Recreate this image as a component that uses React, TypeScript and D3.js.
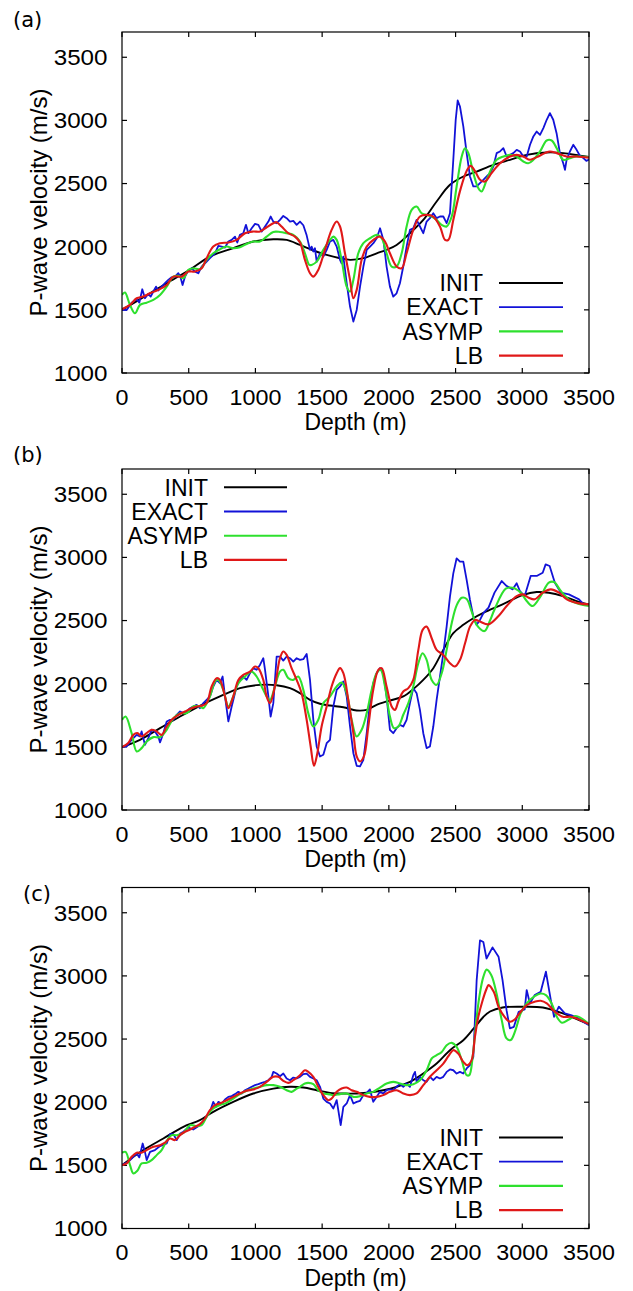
import React from 'react';
import * as d3 from 'd3';

type Pt = [number, number];

const depthTicks = [0, 500, 1000, 1500, 2000, 2500, 3000, 3500];
const velocityTicks = [1000, 1500, 2000, 2500, 3000, 3500];
const seriesNames = ['INIT', 'EXACT', 'ASYMP', 'LB'];
const panelLabels = ['(a)', '(b)', '(c)'];
const xTitle = 'Depth (m)';
const yTitle = 'P-wave velocity (m/s)';

// ---------- panel (a) ----------
const aInit: Pt[] = [[0,1500],[210,1631],[335,1711],[505,1816],[659,1922],[834,1988],[984,2041],[1134,2059],[1234,2054],[1334,2014],[1434,1970],[1534,1935],[1634,1909],[1709,1896],[1809,1909],[1909,1948],[1983,1975],[2058,2014],[2158,2107],[2258,2212],[2358,2358],[2458,2490],[2558,2556],[2658,2595],[2783,2648],[2908,2688],[3033,2727],[3183,2746],[3308,2741],[3432,2720],[3500,2710]];
const aExact: Pt[] = [[0,1500],[35,1499],[72,1557],[110,1584],[130,1557],[152,1663],[172,1592],[197,1626],[215,1605],[235,1645],[255,1684],[272,1653],[297,1684],[322,1711],[347,1737],[372,1758],[397,1763],[422,1790],[438,1760],[454,1697],[472,1763],[497,1811],[522,1829],[547,1803],[572,1790],[597,1843],[622,1869],[659,1909],[697,1948],[722,2006],[747,2001],[772,1993],[797,2041],[822,2054],[847,2080],[864,2033],[884,2094],[909,2107],[929,2173],[947,2107],[972,2146],[997,2181],[1022,2173],[1047,2120],[1072,2160],[1097,2199],[1114,2239],[1134,2199],[1159,2186],[1184,2212],[1209,2244],[1234,2226],[1259,2199],[1284,2204],[1309,2173],[1334,2199],[1359,2170],[1384,2090],[1409,1975],[1421,2001],[1434,1962],[1446,1988],[1459,1882],[1484,1948],[1509,1922],[1534,1975],[1559,2041],[1584,2054],[1609,2001],[1634,1896],[1646,1869],[1659,1922],[1684,1711],[1709,1526],[1734,1407],[1759,1499],[1784,1684],[1809,1843],[1834,1975],[1859,2001],[1884,2028],[1909,2067],[1934,2146],[1959,2054],[1983,1843],[2008,1684],[2033,1605],[2058,1631],[2083,1711],[2108,1843],[2133,2001],[2158,2133],[2183,2146],[2208,2212],[2233,2160],[2258,2107],[2283,2199],[2308,2226],[2333,2265],[2358,2226],[2383,2239],[2408,2239],[2433,2186],[2458,2265],[2483,2688],[2501,3005],[2516,3158],[2533,3110],[2558,2952],[2583,2741],[2608,2556],[2633,2477],[2658,2477],[2683,2503],[2708,2529],[2733,2556],[2758,2582],[2783,2635],[2808,2741],[2833,2754],[2858,2780],[2883,2714],[2908,2727],[2933,2741],[2958,2767],[2983,2754],[3008,2714],[3033,2714],[3058,2807],[3083,2873],[3108,2912],[3133,2886],[3158,2939],[3183,3005],[3207,3058],[3232,3005],[3257,2899],[3282,2741],[3307,2661],[3320,2609],[3332,2688],[3357,2754],[3382,2807],[3407,2767],[3432,2720],[3460,2700],[3480,2680],[3500,2690]];
const aAsymp: Pt[] = [[0,1618],[22,1637],[60,1539],[97,1473],[135,1539],[185,1557],[235,1579],[285,1618],[335,1684],[385,1763],[422,1769],[460,1750],[497,1816],[534,1829],[584,1822],[634,1896],[684,1948],[734,1980],[784,2001],[834,1988],[884,1996],[934,2022],[984,2041],[1034,2041],[1084,2080],[1134,2117],[1184,2117],[1234,2107],[1284,2094],[1334,2041],[1371,1948],[1404,1856],[1421,1856],[1459,1882],[1509,1975],[1559,2054],[1584,2080],[1609,2054],[1646,1896],[1684,1684],[1709,1645],[1734,1737],[1771,1948],[1809,2028],[1859,2067],[1909,2094],[1946,2067],[1983,1948],[2021,1843],[2058,1843],[2096,1948],[2133,2160],[2171,2292],[2208,2318],[2246,2265],[2283,2252],[2321,2239],[2358,2212],[2396,2173],[2433,2160],[2471,2239],[2508,2477],[2546,2714],[2571,2780],[2596,2741],[2633,2582],[2671,2463],[2695,2437],[2733,2529],[2770,2622],[2808,2688],[2858,2714],[2908,2727],[2958,2714],[3008,2675],[3045,2661],[3083,2688],[3133,2754],[3183,2841],[3220,2841],[3258,2780],[3307,2688],[3357,2701],[3407,2714],[3500,2710]];
const aLb: Pt[] = [[0,1505],[60,1539],[110,1592],[160,1605],[210,1631],[272,1658],[335,1697],[385,1763],[447,1763],[497,1803],[547,1803],[597,1829],[634,1909],[684,2001],[734,2028],[797,2033],[859,2054],[922,2107],[984,2120],[1034,2120],[1084,2154],[1134,2186],[1159,2194],[1196,2160],[1246,2107],[1296,2080],[1334,2033],[1371,1896],[1409,1790],[1434,1763],[1471,1816],[1521,1975],[1571,2133],[1609,2199],[1634,2160],[1671,1948],[1709,1737],[1734,1592],[1759,1658],[1796,1896],[1834,2001],[1884,2054],[1934,2080],[1971,2041],[2008,1948],[2058,1843],[2096,1829],[2133,1948],[2183,2133],[2233,2239],[2283,2252],[2333,2239],[2383,2160],[2421,2054],[2446,2054],[2483,2212],[2533,2440],[2583,2600],[2613,2640],[2645,2600],[2683,2530],[2720,2516],[2770,2582],[2833,2661],[2908,2714],[2958,2727],[3008,2714],[3058,2688],[3108,2709],[3170,2741],[3207,2754],[3258,2741],[3332,2714],[3407,2714],[3500,2705]];

// ---------- panel (b) ----------
const bInit: Pt[] = [[0,1498],[135,1556],[285,1648],[435,1740],[584,1825],[734,1899],[884,1965],[1034,1991],[1159,1988],[1259,1965],[1334,1925],[1409,1872],[1484,1841],[1559,1827],[1659,1814],[1759,1788],[1834,1793],[1908,1833],[2008,1867],[2108,1899],[2183,1957],[2258,2030],[2333,2123],[2408,2268],[2483,2400],[2558,2466],[2633,2518],[2708,2560],[2852,2628],[3003,2702],[3108,2726],[3199,2720],[3304,2694],[3425,2647],[3500,2628]];
const bExact: Pt[] = [[0,1498],[35,1503],[72,1556],[110,1595],[135,1582],[147,1622],[172,1516],[197,1569],[222,1635],[247,1622],[272,1582],[285,1535],[310,1609],[335,1701],[360,1714],[385,1714],[410,1754],[435,1780],[460,1767],[485,1780],[510,1806],[534,1820],[559,1833],[584,1806],[609,1846],[634,1872],[659,1899],[684,1978],[709,2030],[734,2004],[754,2057],[772,1899],[797,1701],[822,1820],[859,1978],[884,2030],[909,2057],[934,2030],[959,2083],[984,2123],[1009,2110],[1034,2149],[1059,2202],[1072,2110],[1097,1899],[1114,1740],[1134,1846],[1159,2215],[1184,2215],[1209,2183],[1234,2215],[1259,2202],[1284,2175],[1309,2202],[1334,2189],[1359,2194],[1384,2236],[1409,2030],[1434,1714],[1459,1503],[1484,1424],[1509,1437],[1534,1529],[1559,1556],[1584,1820],[1609,1951],[1634,1978],[1659,2017],[1684,1899],[1709,1661],[1734,1450],[1759,1350],[1784,1345],[1809,1398],[1834,1608],[1858,1846],[1883,2004],[1908,2083],[1933,2123],[1958,2083],[1983,1899],[2008,1635],[2033,1608],[2058,1648],[2083,1674],[2108,1661],[2133,1714],[2158,1846],[2183,1965],[2208,1925],[2233,1793],[2258,1608],[2283,1490],[2308,1503],[2333,1661],[2358,1872],[2383,2057],[2408,2241],[2433,2452],[2458,2690],[2483,2874],[2508,2993],[2533,2967],[2558,2967],[2583,2822],[2608,2663],[2633,2532],[2658,2466],[2683,2505],[2708,2558],[2747,2602],[2792,2721],[2846,2813],[2883,2773],[2928,2747],[2958,2795],[2982,2734],[3018,2694],[3063,2853],[3108,2853],[3153,2879],[3175,2945],[3205,2932],[3244,2800],[3289,2721],[3349,2707],[3425,2668],[3461,2628],[3500,2628]];
const bAsymp: Pt[] = [[0,1714],[27,1740],[72,1609],[110,1464],[147,1490],[185,1543],[235,1577],[285,1577],[335,1635],[385,1727],[435,1767],[485,1767],[534,1820],[584,1820],[609,1806],[659,1899],[697,2017],[722,2030],[759,1951],[797,1820],[834,1899],[872,2004],[922,2057],[972,2096],[1009,2057],[1047,1978],[1084,1899],[1109,1872],[1146,1978],[1184,2096],[1209,2110],[1246,2044],[1284,2030],[1321,2057],[1359,1951],[1396,1767],[1434,1661],[1471,1714],[1509,1846],[1559,1899],[1609,1978],[1646,2009],[1684,1925],[1721,1714],[1759,1582],[1796,1635],[1834,1767],[1871,1951],[1908,2083],[1938,2110],[1971,1978],[2008,1740],[2038,1648],[2071,1661],[2108,1754],[2146,1846],[2183,1978],[2221,2162],[2253,2241],[2283,2189],[2321,2030],[2358,1991],[2396,2083],[2433,2268],[2471,2479],[2508,2620],[2546,2680],[2583,2670],[2621,2570],[2658,2466],[2717,2417],[2758,2500],[2792,2588],[2876,2752],[2928,2760],[2988,2721],[3033,2655],[3078,2615],[3138,2694],[3199,2800],[3238,2805],[3289,2734],[3364,2655],[3440,2628],[3500,2615]];
const bLb: Pt[] = [[0,1498],[47,1530],[85,1595],[115,1609],[147,1582],[185,1609],[222,1635],[260,1622],[297,1595],[335,1661],[372,1714],[422,1754],[472,1780],[522,1806],[559,1820],[597,1825],[634,1846],[672,1978],[709,2044],[734,2030],[772,1899],[797,1806],[834,1899],[872,2030],[909,2070],[959,2096],[997,2136],[1022,2123],[1059,2030],[1084,1899],[1109,1846],[1146,1978],[1184,2202],[1209,2255],[1234,2228],[1271,2123],[1309,2030],[1346,1925],[1384,1714],[1414,1503],[1439,1350],[1464,1450],[1496,1661],[1534,1820],[1571,1978],[1609,2083],[1634,2123],[1659,2083],[1696,1872],[1734,1608],[1759,1424],[1784,1384],[1813,1424],[1846,1661],[1883,1951],[1921,2110],[1946,2123],[1983,1978],[2021,1820],[2046,1793],[2071,1859],[2108,1938],[2146,1965],[2183,2030],[2221,2268],[2253,2426],[2283,2452],[2321,2360],[2358,2268],[2408,2228],[2458,2162],[2495,2136],[2533,2189],[2571,2320],[2608,2452],[2646,2505],[2683,2492],[2747,2470],[2822,2536],[2883,2615],[2958,2694],[3003,2707],[3048,2681],[3093,2668],[3153,2721],[3214,2747],[3274,2721],[3334,2668],[3425,2636],[3500,2628]];

// ---------- panel (c) ----------
const cInit: Pt[] = [[0,1502],[160,1621],[310,1713],[460,1805],[584,1858],[684,1924],[834,2003],[984,2069],[1134,2108],[1259,2122],[1359,2116],[1459,2095],[1559,2074],[1659,2069],[1759,2069],[1858,2077],[1958,2095],[2058,2122],[2158,2161],[2258,2227],[2358,2306],[2458,2412],[2558,2491],[2633,2580],[2708,2675],[2758,2718],[2852,2750],[3003,2756],[3154,2750],[3304,2703],[3425,2650],[3500,2618]];
const cExact: Pt[] = [[0,1502],[47,1528],[85,1568],[110,1594],[130,1563],[155,1673],[172,1607],[185,1541],[210,1607],[247,1621],[285,1652],[335,1673],[360,1747],[385,1747],[410,1700],[435,1752],[460,1766],[497,1800],[534,1784],[572,1810],[597,1831],[634,1884],[659,1924],[684,2003],[704,1963],[722,2003],[747,1990],[772,2021],[797,2042],[822,2048],[847,2064],[872,2082],[897,2069],[922,2095],[947,2108],[972,2122],[997,2135],[1022,2143],[1047,2153],[1072,2161],[1097,2174],[1122,2201],[1134,2240],[1159,2227],[1184,2206],[1209,2227],[1234,2188],[1259,2174],[1284,2195],[1309,2188],[1334,2201],[1359,2222],[1384,2227],[1409,2201],[1434,2188],[1459,2174],[1484,2122],[1509,2029],[1534,2003],[1559,1990],[1584,1950],[1609,2016],[1621,1937],[1639,1818],[1659,1963],[1684,1990],[1709,2056],[1734,1990],[1759,2003],[1784,2011],[1809,2056],[1834,2074],[1858,2101],[1883,2003],[1908,2042],[1933,2082],[1958,2069],[1983,2095],[2008,2101],[2033,2095],[2058,2122],[2083,2143],[2108,2122],[2133,2148],[2158,2122],[2183,2214],[2196,2240],[2208,2161],[2233,2201],[2258,2174],[2283,2161],[2308,2201],[2333,2174],[2358,2201],[2383,2188],[2408,2201],[2433,2240],[2458,2259],[2483,2253],[2508,2227],[2533,2240],[2558,2227],[2583,2267],[2608,2293],[2633,2359],[2658,2965],[2683,3282],[2708,3269],[2732,3138],[2777,3226],[2822,3152],[2852,2967],[2882,2729],[2907,2584],[2937,2597],[2973,2716],[3018,2734],[3033,2888],[3057,2782],[3093,2848],[3138,2874],[3177,3033],[3214,2808],[3238,2676],[3274,2756],[3319,2703],[3364,2690],[3409,2671],[3455,2637],[3500,2610]];
const cAsymp: Pt[] = [[0,1600],[27,1607],[60,1502],[85,1436],[115,1457],[147,1515],[185,1520],[222,1541],[260,1581],[297,1621],[335,1694],[372,1739],[410,1739],[460,1758],[510,1818],[559,1810],[597,1818],[634,1884],[684,1950],[734,1977],[784,1995],[834,2029],[884,2064],[934,2090],[984,2108],[1034,2122],[1084,2135],[1134,2135],[1184,2122],[1234,2095],[1271,2082],[1309,2108],[1334,2122],[1371,2148],[1396,2153],[1434,2143],[1471,2095],[1509,2069],[1546,2064],[1584,2056],[1634,2064],[1684,2069],[1734,2042],[1784,2048],[1834,2069],[1883,2082],[1933,2116],[1983,2148],[2033,2161],[2083,2148],[2133,2135],[2183,2143],[2233,2174],[2283,2253],[2321,2346],[2358,2372],[2396,2398],[2433,2451],[2471,2470],[2508,2438],[2546,2333],[2583,2214],[2603,2214],[2628,2359],[2653,2623],[2678,2834],[2708,2992],[2733,3050],[2768,3006],[2807,2861],[2846,2650],[2882,2505],[2913,2492],[2949,2571],[2988,2703],[3033,2782],[3093,2840],[3138,2861],[3177,2848],[3220,2782],[3259,2676],[3298,2629],[3349,2655],[3400,2682],[3455,2655],[3500,2618]];
const cLb: Pt[] = [[0,1502],[35,1515],[72,1568],[110,1600],[147,1600],[185,1621],[235,1647],[285,1660],[322,1679],[360,1713],[397,1700],[435,1739],[472,1766],[510,1784],[547,1805],[584,1826],[622,1871],[659,1937],[697,1977],[734,1990],[784,2016],[834,2042],[884,2069],[934,2090],[984,2101],[1034,2122],[1084,2161],[1134,2201],[1171,2201],[1209,2169],[1246,2153],[1284,2174],[1334,2214],[1371,2253],[1396,2240],[1434,2201],[1471,2122],[1509,2056],[1546,2016],[1571,2029],[1609,2082],[1646,2108],[1684,2116],[1721,2095],[1759,2082],[1809,2056],[1858,2042],[1908,2042],[1958,2056],[2008,2082],[2058,2095],[2108,2069],[2158,2056],[2208,2069],[2258,2135],[2308,2201],[2358,2253],[2408,2306],[2446,2364],[2483,2412],[2520,2385],[2558,2319],[2588,2293],[2620,2333],[2645,2517],[2670,2675],[2703,2807],[2733,2900],[2747,2927],[2786,2874],[2822,2756],[2867,2676],[2907,2637],[2943,2655],[2988,2716],[3033,2769],[3093,2795],[3138,2803],[3184,2782],[3244,2716],[3304,2676],[3364,2676],[3425,2655],[3500,2618]];

// ---------- layout / style ----------
const W = 633;
const H = 1291;
const PLOT_L = 122;
const PLOT_R = 589;
const PLOT_H = 341;
const FONT = '"Liberation Sans", Arial, Helvetica, sans-serif';
const LABEL_FONT = '"DejaVu Sans", Verdana, sans-serif';
const FS = 23;
const TICK_FS = 22;
const COLORS = ['#000000', '#1212d8', '#2ee02e', '#e01818'];
const WIDTHS = [1.9, 1.8, 2.1, 2.1];

interface PanelCfg {
  top: number;
  label: string;
  labelX: number;
  labelY: number;
  series: Pt[][];
  legend: { textRight: number; x1: number; x2: number; firstRow: number };
}

const panels: PanelCfg[] = [
  { top: 32, label: panelLabels[0], labelX: 13, labelY: 26.5, series: [aInit, aExact, aAsymp, aLb],
    legend: { textRight: 483, x1: 499, x2: 563, firstRow: 251 } },
  { top: 469, label: panelLabels[1], labelX: 13, labelY: 462, series: [bInit, bExact, bAsymp, bLb],
    legend: { textRight: 208, x1: 224, x2: 287, firstRow: 18.3 } },
  { top: 887.5, label: panelLabels[2], labelX: 23, labelY: 901, series: [cInit, cExact, cAsymp, cLb],
    legend: { textRight: 483, x1: 499, x2: 563, firstRow: 250 } },
];

function Panel({ cfg, idx }: { cfg: PanelCfg; idx: number }) {
  const top = cfg.top;
  const bottom = top + PLOT_H;
  const x = d3.scaleLinear().domain([0, 3500]).range([PLOT_L, PLOT_R]);
  const y = d3.scaleLinear().domain([1000, 3700]).range([bottom, top]);
  const smooth = d3.line<Pt>().x(d => x(d[0])).y(d => y(d[1])).curve(d3.curveCatmullRom.alpha(0.5));
  const jagged = d3.line<Pt>().x(d => x(d[0])).y(d => y(d[1])).curve(d3.curveLinear);
  const clipId = `clip-${idx}`;
  const tickLen = 5;
  const rowGap = 24.2;
  return (
    <g>
      <defs>
        <clipPath id={clipId}>
          <rect x={PLOT_L} y={top} width={PLOT_R - PLOT_L} height={PLOT_H} />
        </clipPath>
      </defs>
      <text x={cfg.labelX} y={cfg.labelY} fontSize={21} fontFamily={LABEL_FONT} fill="#000">{cfg.label}</text>
      {/* ticks */}
      {depthTicks.map(t => (
        <g key={`xt${t}`}>
          <line x1={x(t)} x2={x(t)} y1={bottom} y2={bottom - tickLen} stroke="#000" strokeWidth={1.2} />
          <line x1={x(t)} x2={x(t)} y1={top} y2={top + tickLen} stroke="#000" strokeWidth={1.2} />
          <text transform={`translate(${x(t)},${bottom + 31.5}) scale(1.06,1)`} textAnchor="middle"
            fontSize={TICK_FS} fontFamily={FONT} fill="#000">{t}</text>
        </g>
      ))}
      {velocityTicks.map(t => (
        <g key={`yt${t}`}>
          <line x1={PLOT_L} x2={PLOT_L + tickLen} y1={y(t)} y2={y(t)} stroke="#000" strokeWidth={1.2} />
          <line x1={PLOT_R} x2={PLOT_R - tickLen} y1={y(t)} y2={y(t)} stroke="#000" strokeWidth={1.2} />
          <text transform={`translate(107.5,${y(t)}) scale(1.1,1)`} dy="0.36em" textAnchor="end"
            fontSize={TICK_FS} fontFamily={FONT} fill="#000">{t}</text>
        </g>
      ))}
      <text x={(PLOT_L + PLOT_R) / 2} y={bottom + 57} textAnchor="middle" fontSize={FS} fontFamily={FONT} fill="#000">{xTitle}</text>
      <text transform={`translate(47,${(top + bottom) / 2}) rotate(-90)`} textAnchor="middle" fontSize={24} fontFamily={FONT} fill="#000">{yTitle}</text>
      {/* data */}
      <g clipPath={`url(#${clipId})`}>
        {cfg.series.map((s, i) => (
          <path key={seriesNames[i]} d={(i === 1 ? jagged(s) : smooth(s)) || ''} fill="none"
            stroke={COLORS[i]} strokeWidth={WIDTHS[i]} strokeLinejoin="round" />
        ))}
      </g>
      {/* legend */}
      {seriesNames.map((n, i) => {
        const ry = top + cfg.legend.firstRow + i * rowGap;
        return (
          <g key={`lg${n}`}>
            <text x={cfg.legend.textRight} y={ry} dy="0.36em" textAnchor="end" fontSize={FS} fontFamily={FONT} fill="#000">{n}</text>
            <line x1={cfg.legend.x1} x2={cfg.legend.x2} y1={ry} y2={ry} stroke={COLORS[i]} strokeWidth={WIDTHS[i]} />
          </g>
        );
      })}
      <rect x={PLOT_L} y={top} width={PLOT_R - PLOT_L} height={PLOT_H} fill="none" stroke="#000" strokeWidth={1.2} />
    </g>
  );
}

export default function App() {
  return (
    <svg width={W} height={H} viewBox={`0 0 ${W} ${H}`}
      style={{ position: 'absolute', left: 0, top: 0, background: '#fff', display: 'block' }}>
      <rect x={0} y={0} width={W} height={H} fill="#fff" />
      {panels.map((p, i) => <Panel key={p.label} cfg={p} idx={i} />)}
    </svg>
  );
}
